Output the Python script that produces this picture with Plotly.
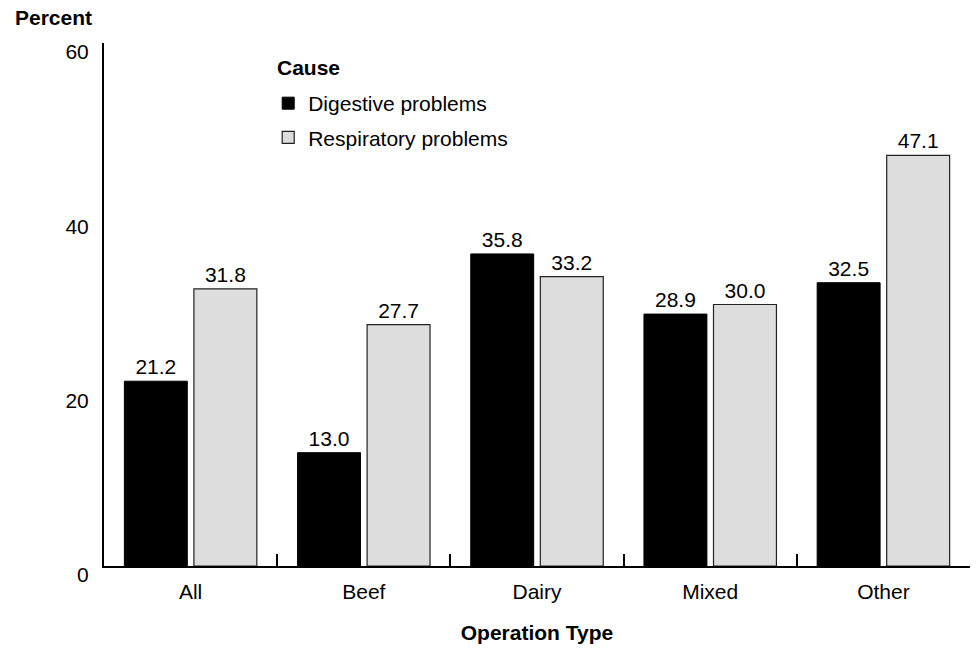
import plotly.graph_objects as go

categories = ["All", "Beef", "Dairy", "Mixed", "Other"]
digestive = [21.2, 13.0, 35.8, 28.9, 32.5]
respiratory = [31.8, 27.7, 33.2, 30.0, 47.1]
series_names = ["Digestive problems", "Respiratory problems"]
y_ticks = [0, 20, 40, 60]

FONT = "Liberation Sans, Arial, sans-serif"
FS = 21
BLACK = "#000000"
GRAY = "#dddddd"

fig = go.Figure()
fig.add_trace(go.Bar(
    x=categories, y=digestive, name=series_names[0], legendgroup="d",
    marker=dict(color=BLACK, line=dict(color=BLACK, width=1)),
    text=[f"{v:.1f}" for v in digestive], textposition="outside",
    textfont=dict(family=FONT, size=FS, color="black"), cliponaxis=False,
))
fig.add_trace(go.Bar(
    x=categories, y=respiratory, name=series_names[1], legendgroup="r",
    marker=dict(color=GRAY, line=dict(color="#222222", width=1.2)),
    text=[f"{v:.1f}" for v in respiratory], textposition="outside",
    textfont=dict(family=FONT, size=FS, color="black"), cliponaxis=False,
))

fig.update_layout(
    width=977, height=650,
    margin=dict(l=104, r=7, t=43, b=84),
    paper_bgcolor="white", plot_bgcolor="white",
    font=dict(family=FONT, size=FS, color="black"),
    barmode="group", bargap=0.197, bargroupgap=0.095,
    showlegend=True,
    legend=dict(
        x=0.1896, y=0.9235, xanchor="left", yanchor="top",
        bgcolor="rgba(0,0,0,0)",
        font=dict(family=FONT, size=FS),
        traceorder="grouped", tracegroupgap=4, itemwidth=30,
    ),
    xaxis=dict(
        automargin=False,
        showline=True, linecolor="black", linewidth=2,
        ticks="inside", tickson="boundaries", ticklen=12, tickwidth=2, tickcolor="black",
        showgrid=False, zeroline=False,
        tickfont=dict(family=FONT, size=FS), ticklabelstandoff=6,
        title=dict(text="<b>Operation Type</b>", font=dict(family=FONT, size=FS), standoff=23),
    ),
    yaxis=dict(
        automargin=False,
        range=[0, 60], tickvals=y_ticks, ticks="",
        showline=True, linecolor="black", linewidth=2,
        showgrid=False, zeroline=False,
        tickfont=dict(family=FONT, size=FS),
        ticklabelshift=9, ticklabelstandoff=9,
    ),
    annotations=[
        dict(
            text="<b>Percent</b>", xref="paper", yref="paper",
            x=-0.105, y=1.048, xanchor="left", yanchor="middle",
            showarrow=False, font=dict(family=FONT, size=FS),
        ),
        dict(
            text="<b>Cause</b>", xref="paper", yref="paper",
            x=0.1975, y=0.954, xanchor="left", yanchor="middle",
            showarrow=False, font=dict(family=FONT, size=FS),
        ),
    ],
)

fig.write_html("out.html", config={"displayModeBar": False},
               post_script="document.body.style.margin='0';")
